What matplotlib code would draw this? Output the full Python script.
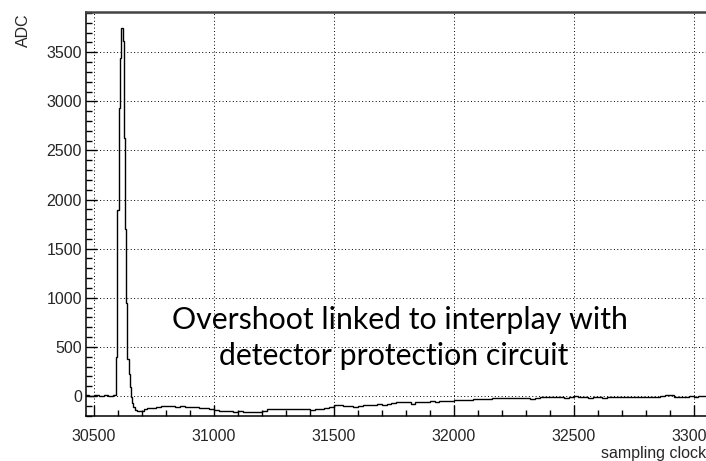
import numpy as np
import matplotlib
matplotlib.use("Agg")
import matplotlib.pyplot as plt

# bin edges (sampling clock) and ADC content of each bin
edges = [30460, 30480, 30500, 30520, 30540, 30560, 30580, 30592,
         30598, 30604, 30610, 30614, 30620, 30624, 30628, 30632, 30636,
         30640, 30645, 30650, 30655, 30660, 30665, 30670, 30680, 30690,
         30700, 30710, 30720] + list(range(30740, 33061, 20))
adc = [5, 3, 8, 2, 6, 4, 8,
       400, 1890, 2930, 3440, 3745, 3610, 2630, 1700, 950, 560,
       380, 220, 90, -10, -70, -110, -140, -155, -158, -150, -132, -125,
       -118, -112, -105, -100, -104, -108, -106, -112, -110, -116,
       -120, -126, -134, -146, -148, -150, -156, -162, -158, -164,
       -160, -162, -160, -148, -136, -134, -132, -134, -130, -136,
       -132, -130, -134, -138, -130, -128, -118, -112, -96, -92,
       -98, -102, -108, -100, -96, -94, -90, -86, -92, -84,
       -70, -62, -66, -64, -78, -60, -58, -62, -56, -58,
       -54, -56, -48, -42, -44, -40, -42, -30, -28, -26,
       -30, -22, -20, -24, -18, -20, -16, -18, -20, -28,
       -22, -12, -6, -10, -14, -8, -18, -10, -4, -14,
       -10, -16, -8, -12, -20, -10, -8, -14, -10, -6,
       -12, -8, -10, -14, -6, -10, -4, 14, 6, -8,
       -6, -12, -2, -8, 0, -4]

x_major = [30500, 31000, 31500, 32000, 32500, 33000]
y_major = [0, 500, 1000, 1500, 2000, 2500, 3000, 3500]

W, H = 706, 461
fig = plt.figure(figsize=(W / 100, H / 100), dpi=100)
ax = fig.add_axes([86 / W, (H - 416) / H, (708 - 86) / W, (416 - 12) / H])

ax.stairs(adc, edges, color="black", lw=1.0)

ax.set_xlim(30467, 33060)
ax.set_ylim(-204, 3910)

ax.set_xticks(x_major)
ax.set_yticks(y_major)
ax.set_xticks(np.arange(30500, 33060, 100), minor=True)
ax.set_yticks(np.arange(-200, 3910, 100), minor=True)
ax.grid(True, which="major", color="black", lw=0.7, linestyle=(0, (1, 2.5)))

lab_font = dict(family=["Liberation Sans", "DejaVu Sans"], size=11.5, color="#262626")
ax.tick_params(which="both", direction="in", top=False, right=False, width=1.0)
ax.tick_params(which="major", length=8)
ax.tick_params(which="minor", length=4)
ax.tick_params(axis="y", which="major", pad=3)
ax.tick_params(axis="x", which="major", pad=9)
for lab in ax.get_xticklabels() + ax.get_yticklabels():
    lab.set_fontfamily(lab_font["family"])
    lab.set_fontsize(lab_font["size"])
    lab.set_color(lab_font["color"])

for s in ["left", "bottom"]:
    ax.spines[s].set_linewidth(1.1)
ax.spines["top"].set_linewidth(1.8)
ax.spines["top"].set_color("#444444")

fig.text(23 / W, 1 - 13 / H, "ADC", rotation=90, ha="center", va="top", **lab_font)
fig.text(706 / W, 1 - 453 / H, "sampling clock", ha="right", va="center", **lab_font)

note = dict(family=["Lato", "DejaVu Sans"], size=21.8, color="black")
fig.text(400 / W, 1 - 329 / H, "Overshoot linked to interplay with", ha="center", va="baseline", **note)
fig.text(394 / W, 1 - 365 / H, "detector protection circuit", ha="center", va="baseline", **note)

fig.savefig("out.png", dpi=100)
